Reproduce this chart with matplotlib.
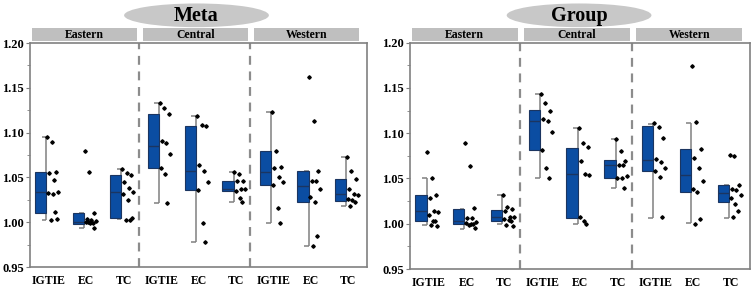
import matplotlib.pyplot as plt
import matplotlib.transforms as mtransforms
from matplotlib.patches import Ellipse, Rectangle

plt.rcParams['font.family'] = ['Liberation Serif', 'DejaVu Serif']
plt.rcParams['font.weight'] = 'bold'

regions = ['Eastern', 'Central', 'Western']
measures = ['IGTIE', 'EC', 'TC']

# box stats: (whisker low, q1, median, q3, whisker high)
meta_stats = [
    (1.003, 1.010, 1.034, 1.056, 1.095),
    (0.994, 0.9985, 1.000, 1.010, 1.010),
    (1.0036, 1.005, 1.034, 1.0525, 1.059),
    (1.021, 1.061, 1.085, 1.1205, 1.133),
    (0.978, 1.036, 1.0575, 1.107, 1.118),
    (1.0226, 1.035, 1.037, 1.046, 1.056),
    (0.9994, 1.042, 1.056, 1.080, 1.123),
    (0.9734, 1.023, 1.0405, 1.057, 1.057),
    (1.018, 1.024, 1.031, 1.048, 1.073),
]
group_stats = [
    (0.9983, 1.0028, 1.0142, 1.0318, 1.0506),
    (0.9947, 1.0002, 1.003, 1.0164, 1.0164),
    (0.9995, 1.0028, 1.0075, 1.0157, 1.0318),
    (1.0506, 1.082, 1.1133, 1.1254, 1.1428),
    (1.0002, 1.0064, 1.0547, 1.0838, 1.1059),
    (1.040, 1.0506, 1.0646, 1.0702, 1.0934),
    (1.0068, 1.0583, 1.0702, 1.1077, 1.1107),
    (1.0009, 1.0351, 1.0544, 1.0823, 1.1118),
    (1.0068, 1.0241, 1.0345, 1.0425, 1.0425),
]

meta_points = [
    [1.095, 1.089, 1.056, 1.055, 1.047, 1.034, 1.033, 1.032, 1.011, 1.003, 1.004],
    [1.079, 1.056, 1.010, 1.004, 1.003, 1.001, 1.000, 0.999, 0.999, 1.000, 0.994],
    [1.059, 1.055, 1.053, 1.045, 1.038, 1.034, 1.032, 1.025, 1.003, 1.003, 1.005],
    [1.133, 1.127, 1.121, 1.091, 1.088, 1.076, 1.061, 1.054, 1.021],
    [1.118, 1.108, 1.107, 1.064, 1.057, 1.045, 1.036, 0.999, 0.978],
    [1.056, 1.054, 1.046, 1.046, 1.037, 1.037, 1.035, 1.027, 1.023],
    [1.123, 1.080, 1.062, 1.061, 1.051, 1.045, 1.042, 1.016, 0.999],
    [1.162, 1.113, 1.057, 1.046, 1.046, 1.037, 1.028, 1.022, 0.985, 0.973],
    [1.073, 1.057, 1.048, 1.037, 1.032, 1.030, 1.026, 1.025, 1.023, 1.018],
]
group_points = [
    [1.079, 1.050, 1.032, 1.028, 1.014, 1.013, 1.010, 1.003, 1.003, 0.999, 0.998],
    [1.089, 1.064, 1.017, 1.006, 1.006, 1.002, 1.001, 1.000, 1.000, 0.999, 0.995],
    [1.032, 1.019, 1.016, 1.014, 1.008, 1.007, 1.005, 1.004, 1.003, 0.999, 0.998],
    [1.143, 1.133, 1.125, 1.116, 1.113, 1.101, 1.082, 1.062, 1.051],
    [1.106, 1.089, 1.085, 1.069, 1.055, 1.054, 1.007, 1.003, 1.000],
    [1.094, 1.080, 1.069, 1.065, 1.065, 1.053, 1.051, 1.050, 1.040],
    [1.111, 1.107, 1.095, 1.072, 1.068, 1.062, 1.058, 1.052, 1.007],
    [1.174, 1.112, 1.083, 1.073, 1.062, 1.047, 1.038, 1.035, 1.005, 1.000],
    [1.076, 1.075, 1.043, 1.038, 1.037, 1.032, 1.028, 1.022, 1.014, 1.007],
]

y_ticks = [0.95, 1.00, 1.05, 1.10, 1.15, 1.20]

# drawing style
BOX_FC = '#0B4DA2'
BOX_EC = '#1B3560'
GRAY = '#808080'
jitter = [0.0, 0.12, 0.24, 0.06, 0.18, 0.29, 0.03, 0.15, 0.21, 0.09, 0.26]


def draw_panel(ax, stats, points, title, title_x):
    pos = list(range(1, len(stats) + 1))
    lo = [s[0] for s in stats]
    q1 = [s[1] for s in stats]
    med = [s[2] for s in stats]
    q3 = [s[3] for s in stats]
    hi = [s[4] for s in stats]
    wx = [p - 0.06 for p in pos]

    ax.vlines(wx, lo, hi, color=GRAY, lw=1.1, zorder=2)
    ax.hlines(lo, [x - 0.13 for x in wx], wx, color=GRAY, lw=1.1, zorder=2)
    ax.hlines(hi, [x - 0.13 for x in wx], wx, color=GRAY, lw=1.1, zorder=2)
    ax.bar([p - 0.36 for p in pos], [b - a for a, b in zip(q1, q3)], bottom=q1,
           width=0.30, align='edge', color=BOX_FC, edgecolor=BOX_EC, lw=0.8, zorder=3)
    ax.hlines(med, [p - 0.36 for p in pos], wx, color=BOX_EC, lw=1.0, zorder=4)

    for p, vals in zip(pos, points):
        xs = [p - 0.04 + jitter[i % len(jitter)] for i in range(len(vals))]
        ax.plot(xs, vals, 'D', color='black', ms=1.8, zorder=5, clip_on=False)

    for xd in (3.42, 6.38):
        ax.axvline(xd, color='#8C8C8C', lw=1.6, ls=(0, (4, 3)), zorder=1)

    ax.set_xlim(0.5, 9.5)
    ax.set_ylim(0.95, 1.20)
    ax.set_xticks(pos)
    ax.set_xticklabels(measures * 3, fontsize=8.5, fontweight='bold')
    ax.set_yticks(y_ticks)
    ax.set_yticklabels([f'{t:.2f}' for t in y_ticks], fontsize=9, fontweight='bold')
    ax.set_yticks([0.975, 1.025, 1.075, 1.125, 1.175], minor=True)
    ax.tick_params(axis='x', length=0, pad=6)
    ax.tick_params(axis='y', which='major', length=3, color=GRAY, direction='out', pad=1.5)
    ax.tick_params(axis='y', which='minor', length=2, color=GRAY, direction='out')
    for sp in ax.spines.values():
        sp.set_color(GRAY)
        sp.set_linewidth(1.2)

    trans = mtransforms.blended_transform_factory(ax.transData, ax.transAxes)
    for k, name in enumerate(regions):
        x0 = 0.55 + 2.97 * k
        ax.add_patch(Rectangle((x0, 1.007), 2.8, 0.058, transform=trans,
                               facecolor='#BFBFBF', edgecolor='none', clip_on=False))
        ax.text(x0 + 1.4, 1.035, name, transform=trans, ha='center', va='center',
                fontsize=8.5, fontweight='bold')

    fig = ax.figure
    fig.patches.append(Ellipse((title_x, 0.947), 0.192, 0.082, transform=fig.transFigure,
                               facecolor='#C8C8C8', edgecolor='none'))
    fig.text(title_x, 0.945, title, ha='center', va='center', fontsize=14.5, fontweight='bold')


fig = plt.figure(figsize=(7.54, 2.89), dpi=100)
ax1 = fig.add_axes([0.0398, 0.0761, 0.447, 0.7751])
ax2 = fig.add_axes([0.5438, 0.0692, 0.4509, 0.7830])
draw_panel(ax1, meta_stats, meta_points, 'Meta', 0.2606)
draw_panel(ax2, group_stats, group_points, 'Group', 0.768)

fig.savefig('out.png', dpi=100)
